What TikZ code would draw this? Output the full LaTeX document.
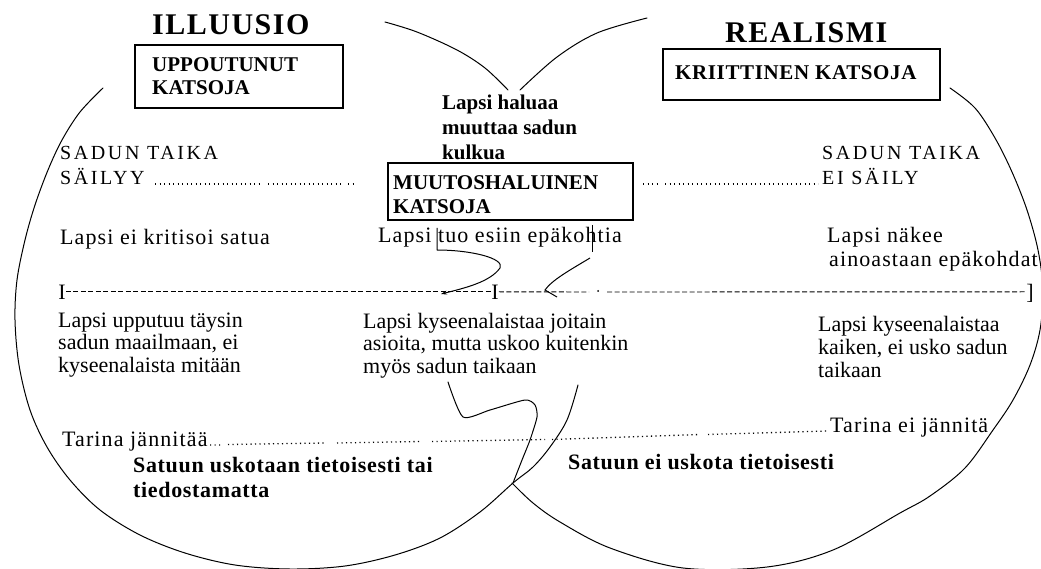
\documentclass[tikz,border=0pt]{standalone}
\usepackage{fontspec}
\setmainfont{Liberation Serif}
\newfontfamily\lsfont[LetterSpace=5]{Liberation Serif}
\newfontfamily\widefont[LetterSpace=13]{Liberation Serif}
\newfontfamily\ttlfont[LetterSpace=5]{Liberation Serif}
\newfontfamily\bsfont[LetterSpace=3]{Liberation Serif}
\usetikzlibrary{arrows.meta}
\tikzset{
  arcst/.style={line width=1pt, line join=round, line cap=round},
  boxst/.style={draw, line width=1.2pt, inner sep=0pt},
  txt/.style={inner sep=0pt, anchor=base west, font=\fontsize{22}{24}\selectfont},
  lt/.style={txt, font=\lsfont\fontsize{22}{24}\selectfont},
  wt/.style={txt, font=\widefont\fontsize{20}{22}\selectfont},
  bt/.style={txt, font=\bfseries\fontsize{21}{24}\selectfont},
  bt2/.style={txt, font=\bsfont\bfseries\fontsize{21}{24}\selectfont},
  bt3/.style={txt, font=\bsfont\bfseries\fontsize{22}{24}\selectfont},
  ttl/.style={txt, font=\ttlfont\bfseries\fontsize{30}{32}\selectfont},
  dashst/.style={line width=0.9pt, dash pattern=on 5pt off 2.5pt},
  dotst/.style={line width=1.3pt, dash pattern=on 1.2pt off 3.3pt},
  arrst/.style={line width=1pt, -{Stealth[length=6pt,width=4pt]}}
}
\begin{document}
\begin{tikzpicture}[x=1pt,y=-1pt]
\useasboundingbox (0,0) rectangle (1041,569);
\begin{scope}
\clip (0,0) rectangle (1041,569);
% left circle
\draw[arcst] plot[smooth,tension=0.55] coordinates {(103,88) (80,112) (62,140) (48,170) (35,205) (25,240) (17,280) (15,320) (19,365) (30,410) (47,447) (70,480) (100,510) (140,535) (185,553) (235,565) (290,569) (345,566) (395,555) (440,538) (480,512) (513,483) (533,467) (550,447) (567,420) (578,385)};
\draw[arcst] plot[smooth,tension=0.55] coordinates {(385,22) (417,32) (457,50) (485,68) (508,90)};
% right circle
\draw[arcst] plot[smooth,tension=0.55] coordinates {(950,88) (975,108) (995,138) (1012,172) (1027,210) (1038,250) (1043,290) (1040,330) (1030,365) (1013,400) (993,430) (965,468) (930,496) (900,513) (833,550) (767,567) (683,568) (610,548) (560,522) (533,503) (512,483)};
\draw[arcst] plot[smooth,tension=0.55] coordinates {(647,18) (597,33) (557,57) (520,90)};
\draw[arcst] plot[smooth,tension=0.4] coordinates {(448,382) (463,417) (490,410) (525,400) (535,405) (537,417) (530,440) (522,460) (513,483)};
\end{scope}
% titles
\node[ttl] (ill) at (152,35) {ILLUUSIO};
\node[ttl] (rea) at (725,43) {REALISMI};
% boxes
\node[boxst, minimum width=208, minimum height=63] (b1) at (239,76.5) {};
\node[bt] (b1a) at (152,72) {UPPOUTUNUT};
\node[bt] (b1b) at (152,95) {KATSOJA};
\node[boxst, minimum width=277, minimum height=51] (b2) at (801.5,74.5) {};
\node[bt2] (b2a) at (675,80) {KRIITTINEN KATSOJA};
\node[bt] (h1) at (442,110) {Lapsi haluaa};
\node[bt] (h2) at (442,135) {muuttaa sadun};
\node[bt] (h3) at (442,160) {kulkua};
\node[boxst, minimum width=245, minimum height=57] (b3) at (510.5,191.5) {};
\node[bt] (b3a) at (393,190) {MUUTOSHALUINEN};
\node[bt] (b3b) at (393,214) {KATSOJA};
% sadun taika
\node[wt] (st1) at (60,160) {SADUN TAIKA};
\node[wt] (st2) at (60,185) {SÄILYY};
\node[wt] (st3) at (822,160) {SADUN TAIKA};
\node[wt] (st4) at (822,185) {EI SÄILY};
\draw[dotst] (155,184) -- (262,184) (268,184) -- (342,184) (348,184) -- (356,184);
\draw[dotst] (643,184) -- (660,184) (665,184) -- (818,184);
% criticism row
\node[lt] (k1) at (60,245) {Lapsi ei kritisoi satua};
\node[lt] (k2) at (378,243) {Lapsi tuo esiin epäkohtia};
\node[lt] (k3) at (827,243) {Lapsi näkee};
\node[lt] (k4) at (829,267) {ainoastaan epäkohdat};
% scale line
\node[txt, anchor=base] (i1) at (62,299) {I};
\node[txt, anchor=base] (i2) at (495,299) {I};
\node[txt, anchor=base] (i3) at (1030,299) {]};
\coordinate (ga) at (589,292);
\coordinate (gb) at (607,292);
\draw[dashst] (i1.east) -- (i2.west);
\draw[dashst] (i2.east) -- (ga);
\draw[dashst] (gb) -- (i3.west |- i1.east);
\fill (598,291) circle (1);
% arrows from k2
\coordinate (ga1) at (437,228);
\coordinate (ga2) at (441,294);
\draw[arrst] (ga1) -- (437,250) .. controls (470,250) and (505,258) .. (500,268) .. controls (490,282) and (465,288) .. (ga2);
\coordinate (gh1) at (592,225);
\coordinate (gh2) at (557,297);
\draw[line width=1pt] (gh1) -- (592,252);
\draw[line width=1pt] (590,258) .. controls (570,270) and (552,280) .. (545,290) -- (gh2);
% paragraphs
\node[txt] (p1) at (58,327) {Lapsi upputuu täysin};
\node[txt] (p2) at (58,349) {sadun maailmaan, ei};
\node[txt] (p3) at (58,372) {kyseenalaista mitään};
\node[txt] (q1) at (363,328) {Lapsi kyseenalaistaa joitain};
\node[txt] (q2) at (363,350) {asioita, mutta uskoo kuitenkin};
\node[txt] (q3) at (363,373) {myös sadun taikaan};
\node[txt] (r1) at (818,331) {Lapsi kyseenalaistaa};
\node[txt] (r2) at (818,354) {kaiken, ei usko sadun};
\node[txt] (r3) at (818,377) {taikaan};
% tarina row
\node[lt] (t1) at (62,446) {Tarina jännitää};
\node[lt] (t2) at (830,432) {Tarina ei jännitä};
\draw[dotst] (210,445) -- (221,445) (228,444.5) -- (325,443) (337,443) -- (420,441.5) (432,441.5) -- (545,439.5) (552,439.5) -- (700,434.5) (708,434.5) -- (827,431);
% bottom bold
\node[bt3] (s1) at (133,472) {Satuun uskotaan tietoisesti tai};
\node[bt3] (s2) at (133,497) {tiedostamatta};
\node[bt3] (s3) at (568,469) {Satuun ei uskota tietoisesti};
\end{tikzpicture}
\end{document}
